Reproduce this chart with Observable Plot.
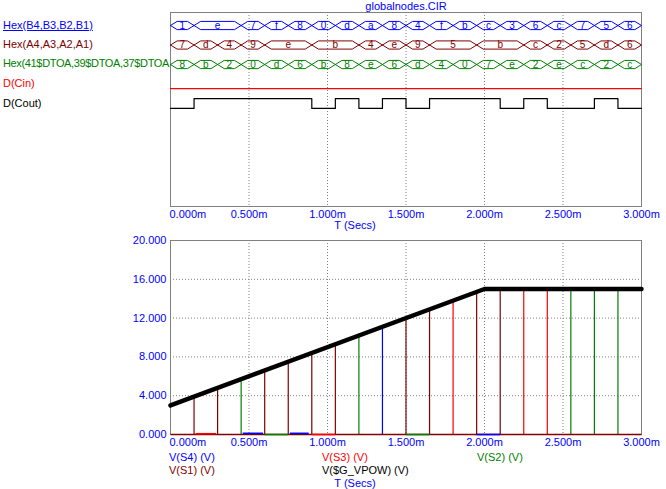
<!DOCTYPE html>
<html><head><meta charset="utf-8">
<script src="https://cdn.jsdelivr.net/npm/d3@7"></script>
<script src="https://cdn.jsdelivr.net/npm/@observablehq/plot@0.6"></script>
<style>
body{margin:0;background:#fff;}
#wrap{position:relative;width:666px;height:489px;overflow:hidden;font-family:"Liberation Sans",Arial,sans-serif;font-size:11px;}
.lab{position:absolute;white-space:nowrap;line-height:12px;}
.plt{position:absolute;left:0;}
</style></head><body>
<div id="wrap"></div>
<script>
// ---- data ----
const slotTimes = [0.00,0.15,0.30,0.45,0.60,0.75,0.90,1.05,1.20,1.35,1.50,1.65,1.80,1.95,2.10,2.25,2.40,2.55,2.70,2.85];
const slotEnd = 3.00;
const hexB   = ["1","e","e","7","f","8","0","d","a","8","4","f","b","c","3","6","c","7","5","6"];
const hexA   = ["7","d","4","9","e","e","b","b","4","e","9","5","5","b","b","c","2","5","d","6"];
const hexSum = ["8","b","2","0","d","6","b","8","e","6","d","4","0","7","e","2","e","c","2","c"];
const cinVals  = [0,0,0,0,0,0,0,0,0,0,0,0,0,0,0,0,0,0,0,0];
const coutVals = [0,1,1,1,1,1,0,1,0,1,0,1,1,1,0,1,0,0,1,0];

const timeTicks = [0,0.5,1.0,1.5,2.0,2.5,3.0];
const voltTicks = [0,4,8,12,16,20];

const spikeT   = [0.15,0.30,0.45,0.60,0.75,0.90,1.05,1.20,1.35,1.50,1.65,1.80,1.95,2.10,2.25,2.40,2.55,2.70,2.85];
const spikeSig = ["S1","S1","S2","S1","S1","S1","S1","S2","S4","S1","S1","S3","S1","S1","S3","S3","S2","S2","S2"];
const spikeTop = [3.9,4.8,5.7,6.6,7.5,8.4,9.3,10.2,11.1,12.0,12.9,13.8,14.7,15,15,15,15,15,15];

const baseSig   = ["S1","S3","S4","S2","S4","S3","S2","S4"];
const baseStart = [0.00,0.16,0.46,0.60,0.76,0.90,1.50,1.95];
const baseEnd   = [3.00,0.29,0.59,0.75,0.88,1.05,1.65,2.10];
const baseLevel = [0,0.08,0.12,0,0.12,0,0,0];

const vpowT = [0.0,2.0,3.0];
const vpowV = [3.0,15.0,15.0];

// ---- styles ----
const BLUE="#0000ff", DRED="#800000", GREEN="#008000", RED="#ff0000", GRAY="#808080";
const sigColor = {S1:DRED, S2:GREEN, S3:RED, S4:BLUE};
const FONT = '"Liberation Sans", Arial, sans-serif';

// ---- helpers ----
function merge(vals){
  const segs=[];
  vals.forEach((v,i)=>{
    const t0=slotTimes[i], t1=(i+1<slotTimes.length?slotTimes[i+1]:slotEnd);
    if(segs.length && segs[segs.length-1].v===v) segs[segs.length-1].t1=t1;
    else segs.push({v,t0,t1});
  });
  return segs;
}
const D=0.042, H=0.21;
function busPoly(vals,row){
  const pts=[];
  merge(vals).forEach((s,i)=>{
    const P=[[s.t0,0],[s.t0+D,-H],[s.t1-D,-H],[s.t1,0],[s.t1-D,H],[s.t0+D,H],[s.t0,0]];
    P.forEach(([t,o])=>pts.push({t,y:row+o,id:i}));
  });
  return pts;
}
function busText(vals,row){
  return merge(vals).map(s=>({t:(s.t0+s.t1)/2,y:row,v:s.v}));
}
const fmt = d=>d.toFixed(3)+"m";

// ---- top chart ----
const coutPts = coutVals.map((v,i)=>({t:slotTimes[i],y:4+(v?-0.25:0.25)}));
coutPts.push({t:slotEnd,y:4+(coutVals[coutVals.length-1]?-0.25:0.25)});
const cinPts = [{t:slotTimes[0],y:3+0.24},{t:slotEnd,y:3+0.24}];

const busDefs=[[hexB,0,BLUE],[hexA,1,DRED],[hexSum,2,GREEN]];

const topChart = Plot.plot({
  width:666, height:232, marginLeft:170, marginRight:25, marginTop:12, marginBottom:26,
  style:{fontFamily:FONT,fontSize:"11px",background:"transparent",overflow:"visible"},
  x:{domain:[0,3]},
  y:{domain:[-0.667,9.28],reverse:true,axis:null},
  marks:[
    Plot.ruleX(timeTicks.slice(1,-1),{stroke:GRAY,strokeDasharray:"1,2"}),
    Plot.frame({stroke:GRAY}),
    ...busDefs.map(([vals,row,c])=>Plot.line(busPoly(vals,row),{x:"t",y:"y",z:"id",stroke:c,strokeWidth:1})),
    ...busDefs.map(([vals,row,c])=>Plot.text(busText(vals,row),{x:"t",y:"y",text:"v",fill:c,fontSize:10})),
    Plot.line(cinPts,{x:"t",y:"y",stroke:RED,strokeWidth:1.2}),
    Plot.line(coutPts,{x:"t",y:"y",stroke:"#000",strokeWidth:1.2,curve:"step-after"}),
    Plot.axisX(timeTicks.slice(1),{tickSize:0,tickPadding:4,tickFormat:fmt,fill:BLUE,label:null}),
    Plot.axisX([0],{tickSize:0,tickPadding:4,tickFormat:fmt,fill:BLUE,textAnchor:"start",dx:-1,label:null})
  ]
});
topChart.classList.add("plt"); topChart.style.top="0px";

// ---- bottom chart ----
const spikes = spikeT.map((t,i)=>({t,top:spikeTop[i],c:sigColor[spikeSig[i]]}));
const base = baseSig.map((s,i)=>({x1:baseStart[i],x2:baseEnd[i],y:baseLevel[i],c:sigColor[s]}));
const vpow = vpowT.map((t,i)=>({t,v:vpowV[i]}));

const botChart = Plot.plot({
  width:666, height:225, marginLeft:170, marginRight:25, marginTop:8, marginBottom:23,
  style:{fontFamily:FONT,fontSize:"11px",background:"transparent",overflow:"visible"},
  x:{domain:[0,3]},
  y:{domain:[0,20]},
  marks:[
    Plot.ruleX(timeTicks.slice(1,-1),{stroke:GRAY,strokeDasharray:"1,2"}),
    Plot.ruleY(voltTicks.slice(1,-1),{stroke:GRAY,strokeDasharray:"1,2"}),
    Plot.frame({stroke:GRAY}),
    Plot.ruleX(spikes,{x:"t",y1:0,y2:"top",stroke:"c",strokeWidth:1.2}),
    Plot.link(base,{x1:"x1",x2:"x2",y1:"y",y2:"y",stroke:"c",strokeWidth:1.6}),
    Plot.line(vpow,{x:"t",y:"v",stroke:"#000",strokeWidth:4.5}),
    Plot.axisY(voltTicks,{tickSize:0,tickPadding:4,tickFormat:d=>d.toFixed(3),fill:BLUE,label:null}),
    Plot.axisX(timeTicks.slice(1),{tickSize:0,tickPadding:4,tickFormat:fmt,fill:BLUE,label:null}),
    Plot.axisX([0],{tickSize:0,tickPadding:4,tickFormat:fmt,fill:BLUE,textAnchor:"start",dx:-1,label:null})
  ]
});
botChart.classList.add("plt"); botChart.style.top="232px";

const wrap=document.getElementById("wrap");
wrap.appendChild(topChart); wrap.appendChild(botChart);

// ---- labels ----
function lab(text,x,y,color,opts={}){
  const d=document.createElement("div");
  d.className="lab"; d.textContent=text; d.style.color=color;
  d.style.top=(y-6)+"px";
  if(opts.center){d.style.left=(x-100)+"px";d.style.width="200px";d.style.textAlign="center";}
  else d.style.left=x+"px";
  if(opts.spacing) d.style.letterSpacing=opts.spacing;
  if(opts.underline) d.style.textDecoration="underline";
  wrap.appendChild(d);
}
lab("globalnodes.CIR",406,6,BLUE,{center:true});
lab("Hex(B4,B3,B2,B1)",3,25,BLUE,{underline:true});
lab("Hex(A4,A3,A2,A1)",3,44,DRED);
lab("Hex(41$DTOA,39$DTOA,37$DTOA",3,63,GREEN,{spacing:"-0.35px"});
lab("D(Cin)",3,83,RED);
lab("D(Cout)",3,103,"#000");
lab("T (Secs)",355,225,BLUE,{center:true});
lab("V(S4) (V)",169,457,BLUE);
lab("V(S3) (V)",322,457,RED);
lab("V(S2) (V)",477,457,GREEN);
lab("V(S1) (V)",169,470,DRED);
lab("V($G_VPOW) (V)",322,470,"#000");
lab("T (Secs)",355,483,BLUE,{center:true});
</script>
</body></html>
